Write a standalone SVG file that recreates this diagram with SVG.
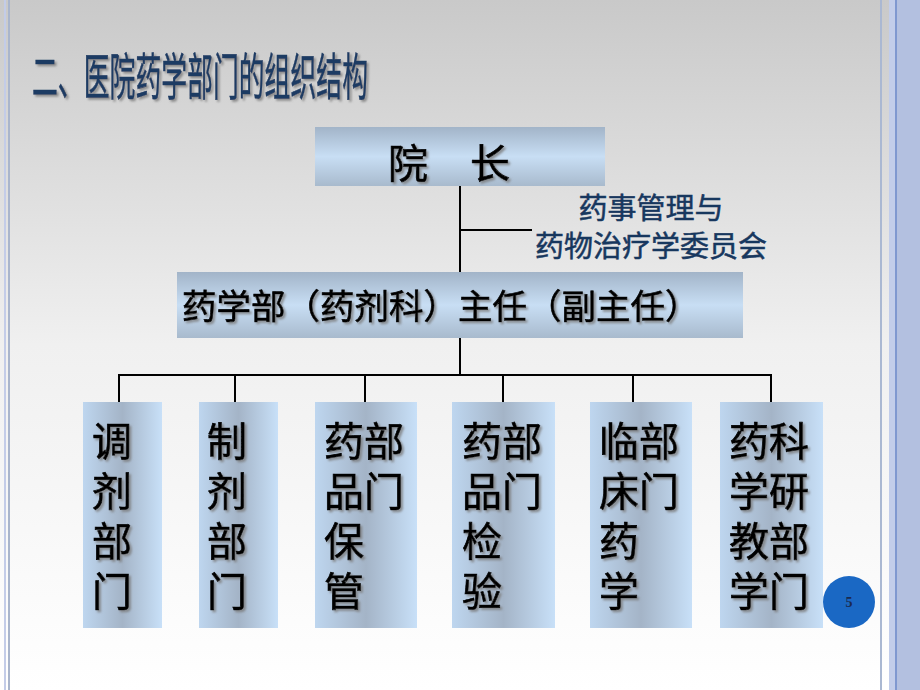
<svg xmlns="http://www.w3.org/2000/svg" width="920" height="690" viewBox="0 0 920 690">
<defs>
<linearGradient id="bg" x1="0" y1="0" x2="0" y2="1">
<stop offset="0" stop-color="#c9c9c9"/>
<stop offset="0.5" stop-color="#f0f0f0"/>
<stop offset="1" stop-color="#ffffff"/>
</linearGradient>
<linearGradient id="hbox" x1="0" y1="0" x2="0" y2="1">
<stop offset="0" stop-color="#a2b4c8"/>
<stop offset="0.5" stop-color="#c8def4"/>
<stop offset="1" stop-color="#a8bacd"/>
</linearGradient>
<linearGradient id="vbox" x1="0" y1="0" x2="1" y2="0">
<stop offset="0" stop-color="#bed6ef"/>
<stop offset="0.5" stop-color="#a4b4c7"/>
<stop offset="1" stop-color="#c8e0f8"/>
</linearGradient>
<filter id="sh" x="-10%" y="-10%" width="130%" height="130%">
<feDropShadow dx="2" dy="2" stdDeviation="0.8" flood-color="#7a7a7a" flood-opacity="0.8"/>
</filter>
<style>
.t{font-family:"Noto Sans CJK SC","Noto Sans CJK TC",sans-serif;fill:#000;stroke:#000;stroke-width:0.7px;}
.big{font-size:40px;}
.mid{font-size:34.5px;}
.v{font-family:"Noto Sans CJK SC","Noto Sans CJK TC",sans-serif;font-size:40px;fill:#000;stroke:#000;stroke-width:0.7px;writing-mode:vertical-rl;letter-spacing:10px;}
.com{font-family:"Noto Sans CJK SC",sans-serif;font-size:29px;fill:#17375e;stroke:#17375e;stroke-width:0.5px;text-anchor:middle;}
.title{font-family:"Noto Sans CJK SC",sans-serif;font-size:50px;fill:#1f3b63;stroke:#1f3b63;stroke-width:0.6px;}
.ln{stroke:#000;stroke-width:2;fill:none;}
</style>
</defs>
<rect x="0" y="0" width="920" height="690" fill="url(#bg)"/>
<rect x="4" y="0" width="2" height="690" fill="#c3cce8"/>
<rect x="8" y="0" width="2" height="690" fill="#a9b5cc"/>
<rect x="880" y="0" width="2" height="690" fill="#aab8d2"/>
<rect x="889" y="0" width="31" height="690" fill="#c2cdea"/>
<rect x="896" y="0" width="24" height="690" fill="#b3c0e0"/>
<rect x="895" y="0" width="2" height="690" fill="#7f98d0"/>

<text class="title" x="32" y="95" textLength="336" lengthAdjust="spacingAndGlyphs" filter="url(#sh)">二、医院药学部门的组织结构</text>

<g id="connectors">
<path class="ln" d="M460 186V272M460 230H532M460 338V375M119 375H771M119 374V402M235 374V402M365 374V402M503 374V402M633 374V402M771 374V402"/>
</g>

<g id="n-dean">
<rect x="315" y="127" width="290" height="59" fill="url(#hbox)"/>
<text class="t big" x="388" y="178" filter="url(#sh)">院</text>
<text class="t big" x="470" y="178" filter="url(#sh)">长</text>
</g>

<g id="n-committee">
<text class="com" x="651" y="219">药事管理与</text>
<text class="com" x="651" y="257">药物治疗学委员会</text>
</g>

<g id="n-director">
<rect x="177" y="272" width="566" height="66" fill="url(#hbox)"/>
<text class="t mid" x="182" y="319" filter="url(#sh)">药学部（药剂科）主任（副主任）</text>
</g>

<g id="n-dispensing">
<rect x="83" y="402" width="79" height="226" fill="url(#vbox)"/>
<text class="v" x="112" y="421" filter="url(#sh)">调剂部门</text>
</g>

<g id="n-preparation">
<rect x="199" y="402" width="79" height="226" fill="url(#vbox)"/>
<text class="v" x="227" y="421" filter="url(#sh)">制剂部门</text>
</g>

<g id="n-storage">
<rect x="315" y="402" width="102" height="226" fill="url(#vbox)"/>
<text class="v" x="344" y="421" filter="url(#sh)">药品保管</text>
<text class="v" x="384" y="421" filter="url(#sh)">部门</text>
</g>

<g id="n-testing">
<rect x="452" y="402" width="103" height="226" fill="url(#vbox)"/>
<text class="v" x="482" y="421" filter="url(#sh)">药品检验</text>
<text class="v" x="522" y="421" filter="url(#sh)">部门</text>
</g>

<g id="n-clinical">
<rect x="590" y="402" width="102" height="226" fill="url(#vbox)"/>
<text class="v" x="619" y="421" filter="url(#sh)">临床药学</text>
<text class="v" x="659" y="421" filter="url(#sh)">部门</text>
</g>

<g id="n-research">
<rect x="720" y="402" width="103" height="226" fill="url(#vbox)"/>
<text class="v" x="749" y="421" filter="url(#sh)">药学教学</text>
<text class="v" x="789" y="421" filter="url(#sh)">科研部门</text>
</g>

<g id="page-number">
<circle cx="849" cy="602" r="26" fill="#1a68c4"/>
<text x="849" y="607" text-anchor="middle" font-family="Liberation Serif,serif" font-size="14" font-weight="bold" fill="#1a2a50">5</text>
</g>
</svg>
